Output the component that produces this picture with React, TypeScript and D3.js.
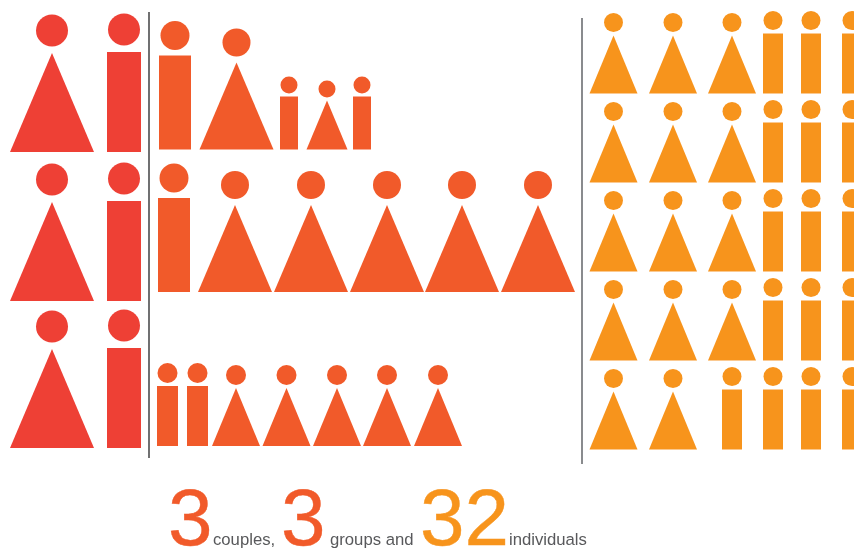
import React from "react";
import * as d3 from "d3";

// Who stands where: w = triangle, m = bar
const coupleRows = [
  ["w", "m"],
  ["w", "m"],
  ["w", "m"],
];
const groupRow1 = ["m", "w", "m", "w", "m"];
const groupRow1Ages = ["adult", "adult", "child", "child", "child"];
const groupRow2 = ["m", "w", "w", "w", "w", "w"];
const groupRow3 = ["m", "m", "w", "w", "w", "w", "w"];
const individualRows = [
  ["w", "w", "w", "m", "m", "m"],
  ["w", "w", "w", "m", "m", "m"],
  ["w", "w", "w", "m", "m", "m"],
  ["w", "w", "w", "m", "m", "m"],
  ["w", "w", "m", "m", "m", "m"],
];

const counts = ["3", "3", "32"];
const countLabels = ["couples,", "groups and", "individuals"];

const RED = "#ee4036";
const ORANGE = "#f15a29";
const AMBER = "#f7941e";

// Size tiers for the figures
const tiers = ["couple", "adult", "teen", "child", "single"];
const triWidth = d3.scaleOrdinal<string, number>().domain(tiers).range([84, 74, 48, 41, 48]);
const triHeight = d3.scaleOrdinal<string, number>().domain(tiers).range([99, 87, 58, 49, 58]);
const barWidth = d3.scaleOrdinal<string, number>().domain(tiers).range([34, 32, 21, 18, 20]);
const barHeight = d3.scaleOrdinal<string, number>().domain(tiers).range([100, 94, 60, 53, 60]);
const headRadius = d3.scaleOrdinal<string, number>().domain(tiers).range([16, 14.5, 10, 8.5, 9.5]);
const headLift = d3.scaleOrdinal<string, number>().domain(tiers).range([22.5, 20, 13, 11.5, 13]);

const triangle = d3.line();

const Figure: React.FC<{ kind: string; tier: string; cx: number; base: number; fill: string }> = ({
  kind,
  tier,
  cx,
  base,
  fill,
}) => {
  const h = kind === "w" ? triHeight(tier) : barHeight(tier);
  const w = kind === "w" ? triWidth(tier) : barWidth(tier);
  const r = kind === "w" && tier === "adult" ? 14 : headRadius(tier);
  return (
    <g fill={fill}>
      <circle cx={cx} cy={base - h - headLift(tier)} r={r} />
      {kind === "w" ? (
        <path
          d={
            triangle([
              [cx - w / 2, base],
              [cx, base - h],
              [cx + w / 2, base],
            ]) + "Z"
          }
        />
      ) : (
        <rect x={cx - w / 2} y={base - h} width={w} height={h} />
      )}
    </g>
  );
};

export default function App() {
  const width = 854;
  const height = 552;

  const coupleBase = d3.scaleOrdinal<number, number>().domain([0, 1, 2]).range([152, 301, 448]);
  const coupleX = d3.scaleOrdinal<number, number>().domain([0, 1]).range([52, 124]);

  const row1X = d3.scaleOrdinal<number, number>().domain(d3.range(5)).range([175, 236.5, 289, 327, 362]);
  const row2X = d3.scaleOrdinal<number, number>().domain(d3.range(6)).range([174, 235, 311, 387, 462, 538]);
  const row3X = d3.scaleOrdinal<number, number>().domain(d3.range(7)).range([167.5, 197.5, 236, 286.5, 337, 387, 438]);

  const singleBase = d3.scalePoint<number>().domain(d3.range(5)).range([93.5, 449.5]);
  const singleX = d3.scaleOrdinal<number, number>().domain(d3.range(6)).range([613.5, 673, 732, 773, 811, 852]);

  const textFont = "'Liberation Sans', Arial, sans-serif";

  return (
    <svg
      width={width}
      height={height}
      style={{ position: "absolute", left: 0, top: 0, background: "#fff" }}
    >
      <defs>
        <filter id="soft" x="-2%" y="-2%" width="104%" height="104%">
          <feGaussianBlur stdDeviation={0.45} />
        </filter>
      </defs>
      <g filter="url(#soft)">
        {/* Parejas */}
        {coupleRows.map((row, i) =>
          row.map((kind, j) => (
            <Figure key={`c${i}${j}`} kind={kind} tier="couple" cx={coupleX(j)} base={coupleBase(i)} fill={RED} />
          ))
        )}

        {/* Grupos */}
        {groupRow1.map((kind, j) => (
          <Figure key={`a${j}`} kind={kind} tier={groupRow1Ages[j]} cx={row1X(j)} base={149.5} fill={ORANGE} />
        ))}
        {groupRow2.map((kind, j) => (
          <Figure key={`b${j}`} kind={kind} tier="adult" cx={row2X(j)} base={292} fill={ORANGE} />
        ))}
        {groupRow3.map((kind, j) => (
          <Figure key={`t${j}`} kind={kind} tier="teen" cx={row3X(j)} base={446} fill={ORANGE} />
        ))}

        {/* Individuos */}
        {individualRows.map((row, i) =>
          row.map((kind, j) => (
            <Figure key={`s${i}${j}`} kind={kind} tier="single" cx={singleX(j)} base={singleBase(i) ?? 0} fill={AMBER} />
          ))
        )}

        {/* Separadores */}
        <line x1={149} x2={149} y1={12} y2={458} stroke="#4d4d4f" strokeWidth={1.6} />
        <line x1={582} x2={582} y1={18} y2={464} stroke="#6d6e71" strokeWidth={1.6} />

        {/* Pie */}
        <g fontFamily={textFont}>
          <text x={168} y={545} fontSize={80} fill={ORANGE} stroke={ORANGE} strokeWidth={0.4}>{counts[0]}</text>
          <text x={213} y={545} fontSize={16.7} fill="#58595b">{countLabels[0]}</text>
          <text x={281} y={545} fontSize={80} fill={ORANGE} stroke={ORANGE} strokeWidth={0.4}>{counts[1]}</text>
          <text x={330} y={545} fontSize={16.7} fill="#58595b">{countLabels[1]}</text>
          <text x={420} y={545} fontSize={80} fill={AMBER} stroke={AMBER} strokeWidth={0.4}>{counts[2]}</text>
          <text x={509} y={545} fontSize={16.7} fill="#58595b">{countLabels[2]}</text>
        </g>
      </g>
    </svg>
  );
}
